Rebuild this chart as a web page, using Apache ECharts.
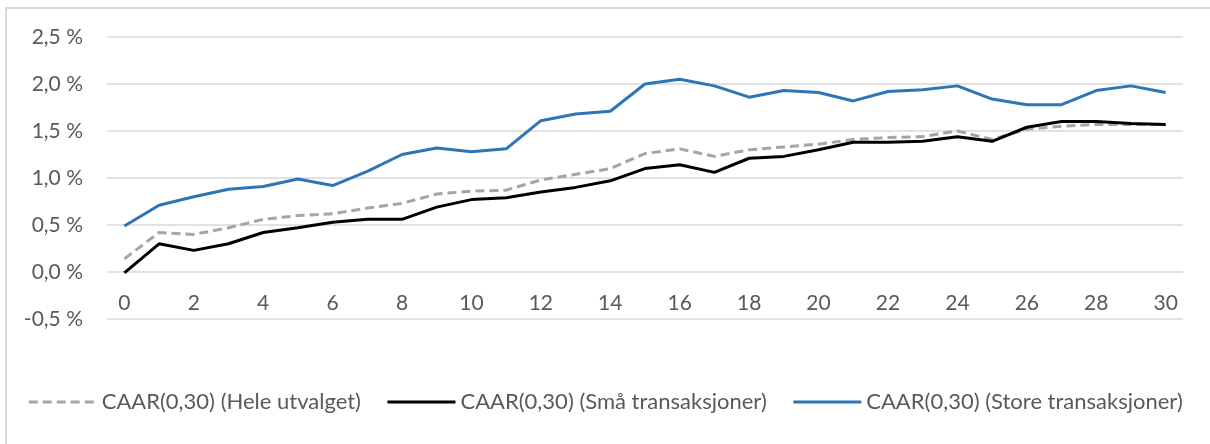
<!DOCTYPE html>
<html>
<head>
<meta charset="utf-8">
<script src="https://cdn.jsdelivr.net/npm/echarts@6/dist/echarts.min.js"></script>
<style>
  html, body { margin: 0; padding: 0; background: #fff; }
  #chart { width: 1210px; height: 444px; }
</style>
</head>
<body>
<div id="chart"></div>
<script>
(function(){

    // dager 0..30
    var days = [];
    for (var i = 0; i <= 30; i++) days.push(String(i));

    var seriesNames = ['CAAR(0,30) (Hele utvalget)', 'CAAR(0,30) (Små transaksjoner)', 'CAAR(0,30) (Store transaksjoner)'];

    // verdier i prosent
    var heleUtvalget = [0.14,0.42,0.40,0.47,0.56,0.60,0.62,0.68,0.73,0.83,0.86,0.87,0.98,1.04,1.10,1.26,1.31,1.23,1.30,1.33,1.36,1.41,1.43,1.44,1.50,1.41,1.52,1.55,1.57,1.57,1.57];
    var smaTrans = [-0.01,0.30,0.23,0.30,0.42,0.47,0.53,0.56,0.56,0.69,0.77,0.79,0.85,0.90,0.97,1.10,1.14,1.06,1.21,1.23,1.30,1.38,1.38,1.39,1.44,1.39,1.54,1.60,1.60,1.58,1.57];
    var storeTrans = [0.49,0.71,0.80,0.88,0.91,0.99,0.92,1.07,1.25,1.32,1.28,1.31,1.61,1.68,1.71,2.00,2.05,1.98,1.86,1.93,1.91,1.82,1.92,1.94,1.98,1.84,1.78,1.78,1.93,1.98,1.91];

    var yMin = -0.5, yMax = 2.5, yStep = 0.5;

    var font = 'Lato, "Liberation Sans", sans-serif';
    var textColor = '#595959';
    var gridColor = '#d9d9d9';

    var option = {
        animation: false,
        backgroundColor: '#ffffff',
        textStyle: { fontFamily: font },
        graphic: [{
            type: 'rect',
            shape: { x: 6, y: 8, width: 1230, height: 460 },
            style: { fill: 'none', stroke: gridColor, lineWidth: 2 },
            silent: true,
            z: -10
        }],
        grid: {
            left: 107,
            right: 27,
            top: 37,
            bottom: 125
        },
        legend: {
            bottom: 26,
            left: 'center',
            itemWidth: 68,
            itemHeight: 12,
            itemGap: 25,
            data: seriesNames,
            itemStyle: { opacity: 0 },
            lineStyle: { width: 3 },
            textStyle: {
                color: textColor,
                fontSize: 22,
                fontFamily: font
            }
        },
        xAxis: {
            type: 'category',
            data: days,
            boundaryGap: true,
            offset: -47,   // labels under the 0 % line
            axisLine: { show: false, onZero: false },
            axisTick: { show: false },
            axisLabel: {
                interval: 1,
                margin: 21,
                color: textColor,
                fontSize: 21,
                fontFamily: font
            },
            splitLine: { show: false }
        },
        yAxis: {
            type: 'value',
            min: yMin,
            max: yMax,
            interval: yStep,
            axisLine: { show: false },
            axisTick: { show: false },
            axisLabel: {
                margin: 24,
                color: textColor,
                fontSize: 21,
                fontFamily: font,
                formatter: function (v) {
                    return v.toFixed(1).replace('.', ',') + ' %';
                }
            },
            splitLine: { lineStyle: { color: gridColor, width: 1.5 } }
        },
        series: [
            {
                name: seriesNames[0],
                type: 'line',
                data: heleUtvalget,
                symbol: 'none',
                lineStyle: { color: '#a5a5a5', width: 3, type: [9, 5] },
                itemStyle: { color: '#a5a5a5' },
                z: 2
            },
            {
                name: seriesNames[1],
                type: 'line',
                data: smaTrans,
                symbol: 'none',
                lineStyle: { color: '#000000', width: 3 },
                itemStyle: { color: '#000000' },
                z: 3
            },
            {
                name: seriesNames[2],
                type: 'line',
                data: storeTrans,
                symbol: 'none',
                lineStyle: { color: '#2e75b6', width: 3 },
                itemStyle: { color: '#2e75b6' },
                z: 4
            }
        ]
    };

    var myChart = echarts.init(document.getElementById('chart'));
    myChart.setOption(option);

})()
</script>
</body>
</html>
